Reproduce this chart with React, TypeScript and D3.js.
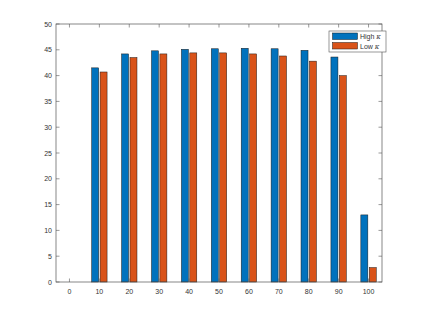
import React, { useEffect, useRef } from 'react';
import * as d3 from 'd3';

const categories = ['0', '10', '20', '30', '40', '50', '60', '70', '80', '90', '100'];
const highK = [0, 41.5, 44.2, 44.8, 45.1, 45.2, 45.3, 45.2, 44.9, 43.6, 13.0];
const lowK = [0, 40.7, 43.5, 44.2, 44.4, 44.4, 44.2, 43.8, 42.8, 40.0, 2.8];
const yTicks = [0, 5, 10, 15, 20, 25, 30, 35, 40, 45, 50];
const seriesNames = ['High', 'Low'];
const colors = ['#0072BD', '#D95319'];

const W = 422;
const H = 317;

export default function App() {
  const ref = useRef<SVGSVGElement>(null);

  useEffect(() => {
    const svg = d3.select(ref.current);
    svg.selectAll('*').remove();

    const margin = { top: 24, right: 40, bottom: 35, left: 56 };
    const x = d3.scalePoint<string>()
      .domain(categories)
      .range([margin.left, W - margin.right])
      .padding(0.45);
    const y = d3.scaleLinear()
      .domain([0, 50])
      .range([H - margin.bottom, margin.top]);

    const axisColor = '#555';
    const font = 'Liberation Sans, Arial, sans-serif';

    // bars
    const barW = 7;
    const offs = [-4.2, 4.2];
    [highK, lowK].forEach((vals, s) => {
      svg.append('g')
        .selectAll('rect')
        .data(vals)
        .join('rect')
        .attr('x', (d, i) => (x(categories[i]) as number) + offs[s] - barW / 2)
        .attr('y', d => y(d))
        .attr('width', barW)
        .attr('height', d => y(0) - y(d))
        .attr('fill', colors[s])
        .attr('stroke', '#1a1a1a')
        .attr('stroke-width', 0.5);
    });

    // box
    svg.append('rect')
      .attr('x', margin.left)
      .attr('y', margin.top)
      .attr('width', W - margin.left - margin.right)
      .attr('height', H - margin.top - margin.bottom)
      .attr('fill', 'none')
      .attr('stroke', axisColor)
      .attr('stroke-width', 0.7);

    const tl = 3.5;
    const ticks = svg.append('g').attr('stroke', axisColor).attr('stroke-width', 0.6);
    categories.forEach(c => {
      const px = x(c) as number;
      ticks.append('line').attr('x1', px).attr('x2', px).attr('y1', y(0)).attr('y2', y(0) - tl);
      ticks.append('line').attr('x1', px).attr('x2', px).attr('y1', y(50)).attr('y2', y(50) + tl);
    });
    yTicks.forEach(t => {
      ticks.append('line').attr('x1', margin.left).attr('x2', margin.left + tl).attr('y1', y(t)).attr('y2', y(t));
      ticks.append('line').attr('x1', W - margin.right).attr('x2', W - margin.right - tl).attr('y1', y(t)).attr('y2', y(t));
    });

    svg.append('g')
      .selectAll('text')
      .data(categories)
      .join('text')
      .attr('x', d => x(d) as number)
      .attr('y', y(0) + 12)
      .attr('text-anchor', 'middle')
      .attr('font-family', font)
      .attr('font-size', 7)
      .attr('fill', '#333')
      .text(d => d);

    svg.append('g')
      .selectAll('text')
      .data(yTicks)
      .join('text')
      .attr('x', margin.left - 4)
      .attr('y', d => y(d) + 2.5)
      .attr('text-anchor', 'end')
      .attr('font-family', font)
      .attr('font-size', 7)
      .attr('fill', '#333')
      .text(d => d);

    // legend
    const lg = svg.append('g').attr('transform', 'translate(329,31)');
    lg.append('rect')
      .attr('width', 57)
      .attr('height', 21)
      .attr('fill', '#fff')
      .attr('stroke', axisColor)
      .attr('stroke-width', 0.6);
    seriesNames.forEach((n, i) => {
      lg.append('rect')
        .attr('x', 3.5)
        .attr('y', 2 + i * 9.5)
        .attr('width', 25)
        .attr('height', 6.5)
        .attr('fill', colors[i])
        .attr('stroke', '#1a1a1a')
        .attr('stroke-width', 0.5);
      const t = lg.append('text')
        .attr('x', 31)
        .attr('y', 8 + i * 9.5)
        .attr('font-family', font)
        .attr('font-size', 7)
        .attr('fill', '#333');
      t.append('tspan').text(n + ' ');
      t.append('tspan').attr('font-style', 'italic').attr('font-family', 'DejaVu Serif, serif').text('\u03BA');
    });
  }, []);

  return (
    <svg ref={ref} width={W} height={H}
      style={{ position: 'absolute', left: 0, top: 0, background: '#fff' }} />
  );
}
